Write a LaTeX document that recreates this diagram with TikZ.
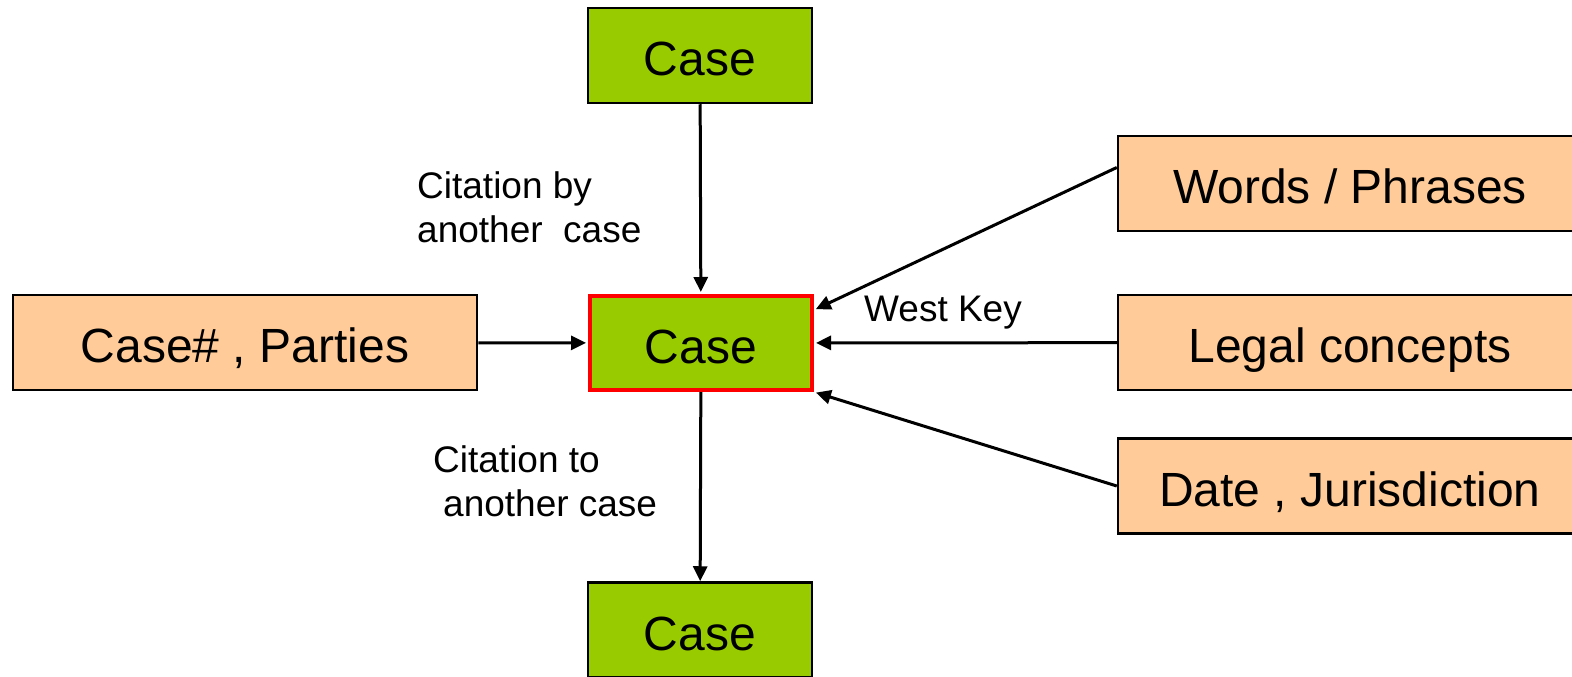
\documentclass[tikz,border=0pt]{standalone}
\usepackage{fontspec}
\setmainfont{Liberation Sans}
\usetikzlibrary{arrows.meta,calc}
\definecolor{casegreen}{HTML}{99CC00}
\definecolor{attrorange}{HTML}{FFCC99}
\begin{document}
\begin{tikzpicture}[x=1pt,y=-1pt,
  box/.style={draw=black,line width=2.5pt,minimum width=224pt,minimum height=95pt,
              inner sep=0pt,text height=42pt,text depth=2pt,
              font=\fontsize{48}{57}\selectfont},
  casebox/.style={box,fill=casegreen},
  focusbox/.style={casebox,draw=red,line width=4pt,minimum width=222pt,minimum height=94pt},
  attrbox/.style={box,fill=attrorange,minimum width=464pt},
  link/.style={line width=3pt,-{Triangle[length=15pt,width=14pt]}},
  tofocus/.style={link,shorten >=2pt},
  lbl/.style={font=\fontsize{37}{44}\selectfont,align=left,inner sep=0pt}]
\useasboundingbox (0,0) rectangle (1572,677);
\clip (0,0) rectangle (1572,677);

% case nodes
\node[casebox] (top) at (700,55.5) {Case};
\node[focusbox] (mid) at (701,343) {Case};
\node[casebox] (bot) at (700,630) {Case};

% attribute nodes
\node[attrbox] (ids) at (245,342.5) {Case\# , Parties};
\node[attrbox] (words) at (1350,183.5) {Words / Phrases};
\node[attrbox] (legal) at (1350,342.5) {Legal concepts};
\node[attrbox] (date) at (1350,486) {Date , Jurisdiction};

% connectors
\draw[tofocus] (top) -- (mid);
\draw[link] (mid) -- (bot);
\draw[tofocus] (ids) -- (mid);
\draw[tofocus] (legal) -- (mid);
\draw[tofocus] ($(words.west)+(0,-16)$) -- ($(mid.north east)+(0,16)$);
\draw[tofocus] (date.west) -- (mid.south east);

% labels
\node[lbl,anchor=west] (citby) at (417,207) {Citation by\\another\ \ case};
\node[lbl,anchor=west] (citto) at (433,481.5) {Citation to\\\hspace*{10pt}another case};
\node[lbl] (westkey) at (943,313) {West Key};
\end{tikzpicture}
\end{document}
